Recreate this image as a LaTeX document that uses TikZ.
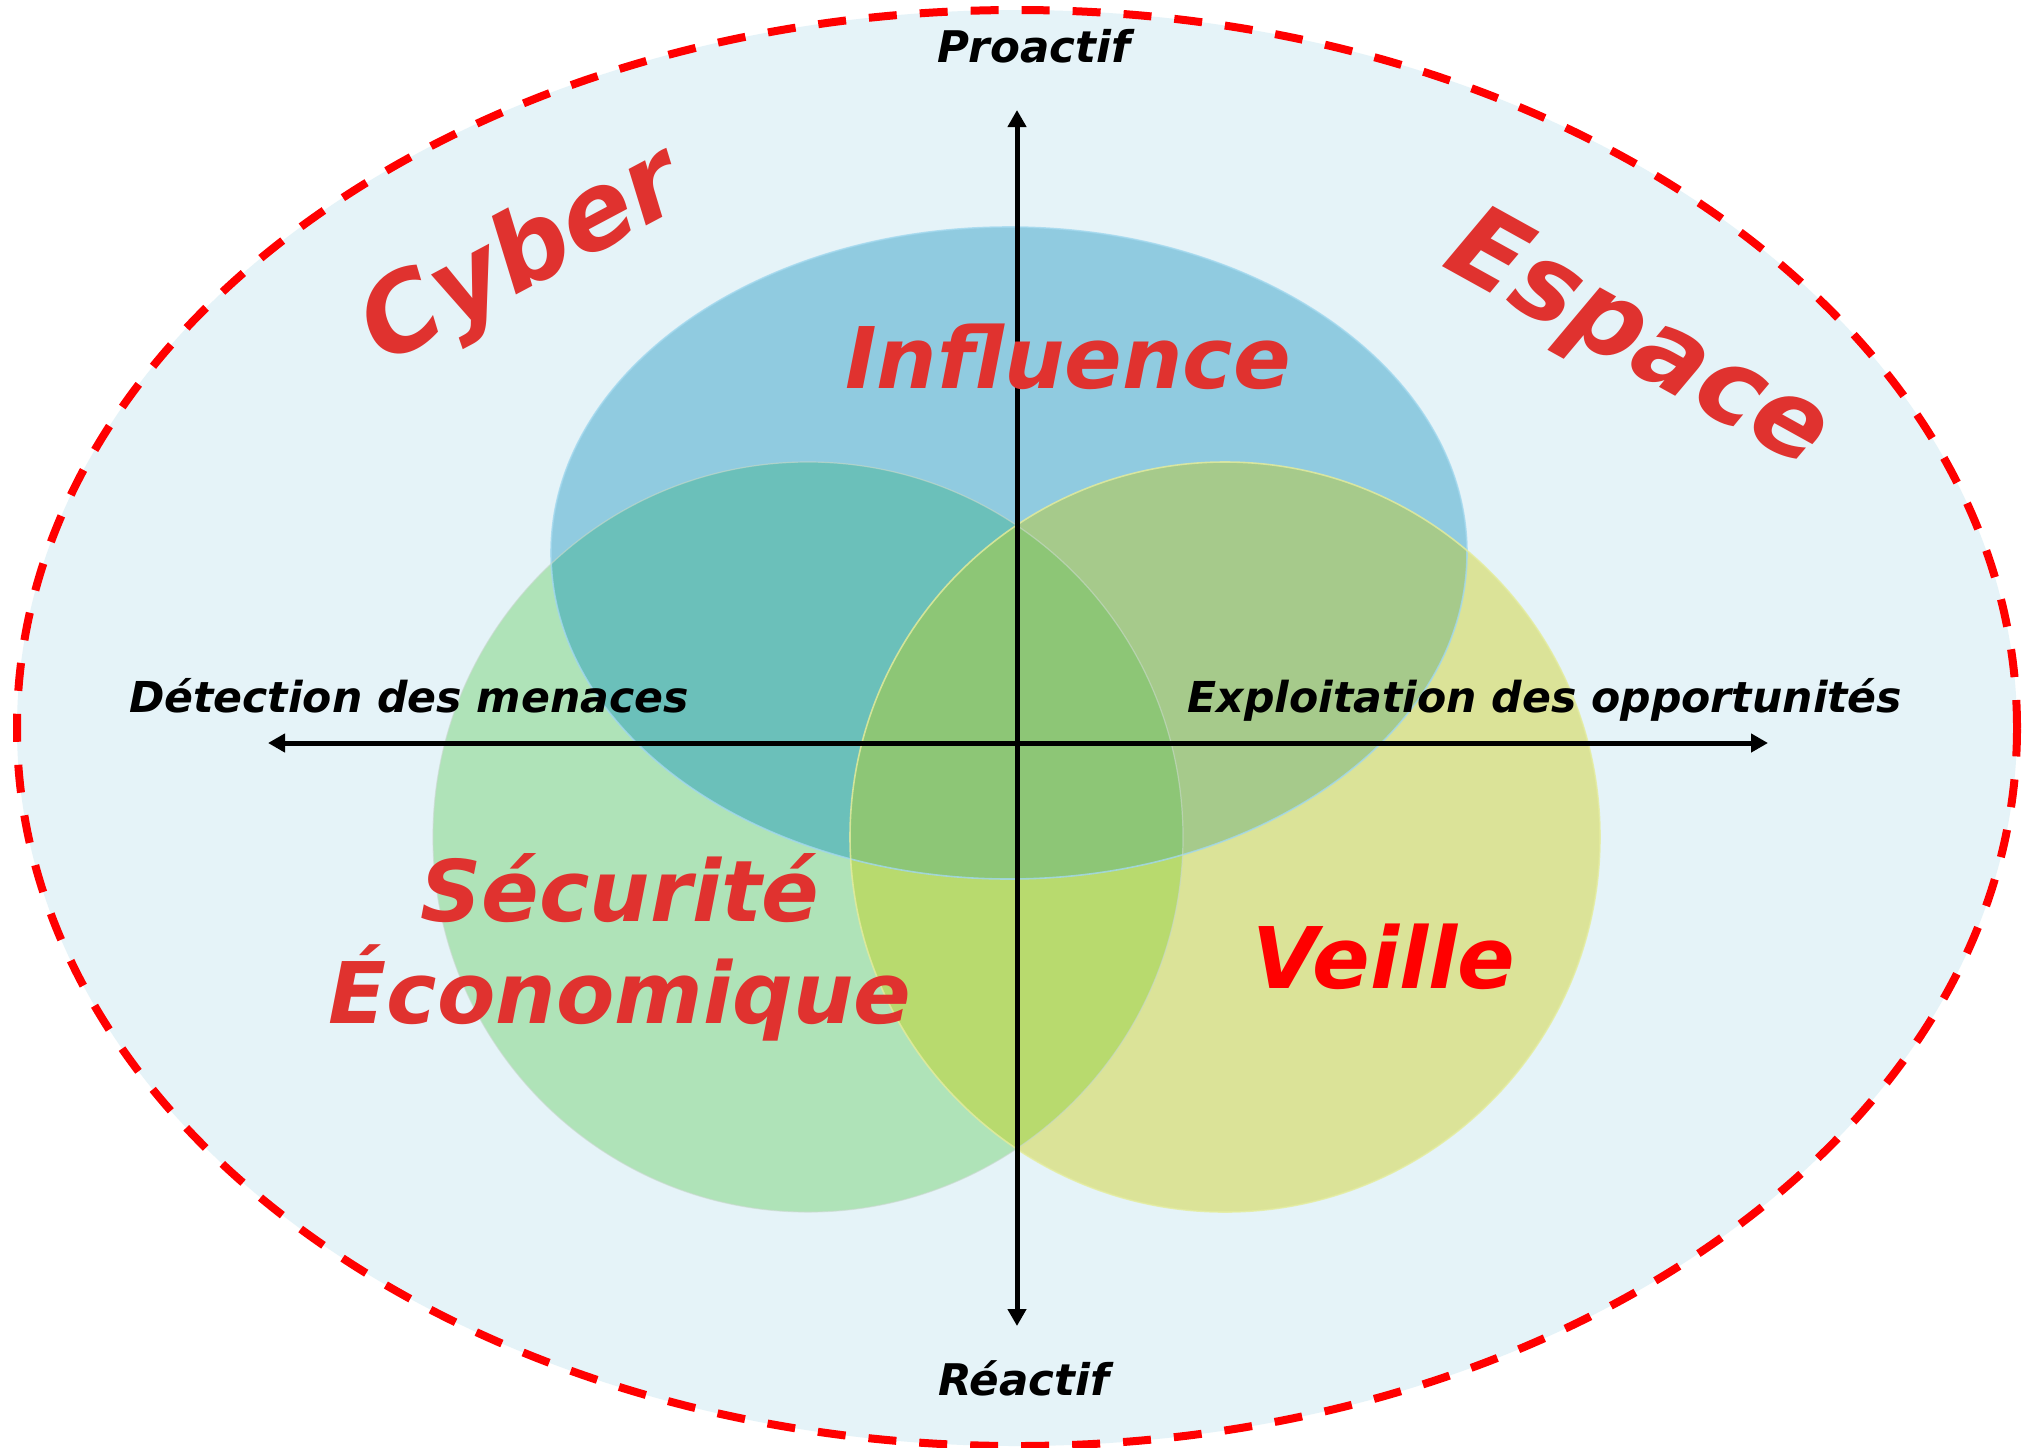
\documentclass[tikz,border=0pt]{standalone}
\usepackage{fontspec}
\setmainfont{DejaVu Sans}
\usetikzlibrary{arrows.meta}
\definecolor{bgblue}{HTML}{E5F3F8}
\definecolor{blueonly}{HTML}{90CBE0}
\definecolor{greenonly}{HTML}{AFE3B8}
\definecolor{yellowonly}{HTML}{DBE398}
\definecolor{bluegreen}{HTML}{6BC0BA}
\definecolor{blueyellow}{HTML}{A6CA8B}
\definecolor{greenyellow}{HTML}{B8DA6E}
\definecolor{centercol}{HTML}{8DC676}
\definecolor{txtred}{HTML}{E0322F}
\definecolor{dashred}{HTML}{FF0000}
\definecolor{bluerim}{HTML}{A2D8EE}
\definecolor{yellowrim}{HTML}{E4EC9E}
\definecolor{greenrim}{HTML}{C9D9CE}
\begin{document}
\begin{tikzpicture}[x=0.5pt,y=-0.5pt,
  axis/.style={line width=2.5pt, {Triangle[width=9pt,length=8.5pt]}-{Triangle[width=9pt,length=8.5pt]}},
  lbl/.style={font=\fontsize{21.3}{26}\selectfont\bfseries\itshape, text=black, inner sep=0pt, anchor=base},
  vlbl/.style={lbl, font=\fontsize{21.8}{26}\selectfont\bfseries\itshape},
  bigtxt/.style={font=\fontsize{42.5}{50}\selectfont\bfseries\itshape, text=txtred, inner sep=0pt, anchor=base},
  hugetxt/.style={font=\fontsize{53}{60}\selectfont\bfseries\itshape, text=txtred, inner sep=0pt}]
\fill[white] (0,0) rectangle (2023,1447);
\useasboundingbox (0,0) rectangle (2023,1447);
% outer domain
\fill[bgblue] (1017,728) ellipse [x radius=500pt, y radius=359pt];
% circles
\fill[blueonly] (1009,553) ellipse [x radius=229pt, y radius=163pt];
\fill[greenonly] (808,837) circle [radius=187.5pt];
\fill[yellowonly] (1225,837) circle [radius=187.5pt];
\begin{scope}
  \clip (1009,553) ellipse [x radius=229pt, y radius=163pt];
  \fill[bluegreen] (808,837) circle [radius=187.5pt];
\end{scope}
\begin{scope}
  \clip (1009,553) ellipse [x radius=229pt, y radius=163pt];
  \fill[blueyellow] (1225,837) circle [radius=187.5pt];
\end{scope}
\begin{scope}
  \clip (808,837) circle [radius=187.5pt];
  \fill[greenyellow] (1225,837) circle [radius=187.5pt];
\end{scope}
\begin{scope}
  \clip (1009,553) ellipse [x radius=229pt, y radius=163pt];
  \clip (808,837) circle [radius=187.5pt];
  \fill[centercol] (1225,837) circle [radius=187.5pt];
\end{scope}
% faint rims
\draw[bluerim, line width=0.8pt, opacity=0.8] (1009,553) ellipse [x radius=229pt, y radius=163pt];
\draw[greenrim, line width=0.6pt, opacity=0.6] (808,837) circle [radius=187.5pt];
\draw[yellowrim, line width=0.8pt, opacity=0.8] (1225,837) circle [radius=187.5pt];
% dashed outer border
\draw[dashred, line width=4pt, dash pattern=on 14pt off 11.5pt] (1017,728) ellipse [x radius=500pt, y radius=359pt];
% axes
\coordinate (axtop) at (1017,110);
\coordinate (axbot) at (1017,1326);
\coordinate (axleft) at (268,743);
\coordinate (axright) at (1768,743);
\draw[axis] (axbot) -- (axtop);
\draw[axis] (axleft) -- (axright);
% axis labels
\node[vlbl] (proactif) at (1034,62) {Proactif};
\node[vlbl] (reactif) at (1024,1395) {Réactif};
\node[lbl] (detection) at (409,712) {Détection des menaces};
\node[lbl] (exploitation) at (1545,712) {Exploitation des opportunités};
% domain labels
\node[bigtxt] (influence) at (1068,388) {Influence};
\node[bigtxt] (secu1) at (620,921) {Sécurité};
\node[bigtxt] (secu2) at (620,1023) {Économique};
\node[bigtxt, text=dashred] (veille) at (1384,988) {Veille};
\node[hugetxt, rotate=28] (cyber) at (523,259) {Cyber};
\node[hugetxt, rotate=-29] (espace) at (1637,343) {Espace};
\end{tikzpicture}
\end{document}
